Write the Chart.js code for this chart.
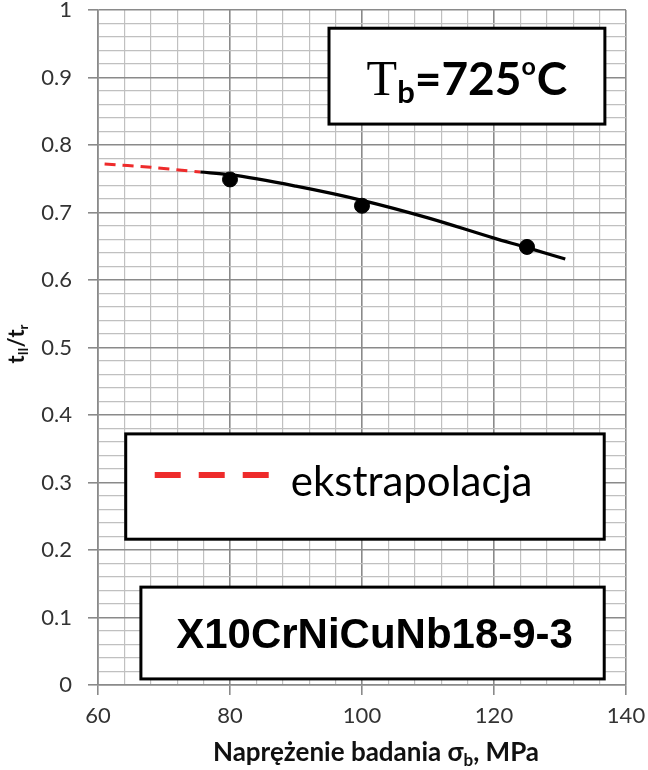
<!DOCTYPE html>
<html>
<head>
<meta charset="utf-8">
<script src="https://cdn.jsdelivr.net/npm/chart.js@4/dist/chart.umd.min.js"></script>
<style>
  html, body { margin: 0; padding: 0; background: #fff; }
  #wrap { width: 648px; height: 770px; }
</style>
</head>
<body>
<div id="wrap"><canvas id="chart"></canvas></div>
<script>
// measured points (stress, MPa -> t_II / t_r)
const stress = [80, 100, 125];
const ratio = [0.749, 0.710, 0.649];

// fitted curve
const fitStress = [75.5, 80, 90, 100, 110, 120, 125, 130.8];
const fitRatio = [0.760, 0.756, 0.739, 0.718, 0.692, 0.662, 0.648, 0.631];

// extrapolated part
const extraStress = [61, 68, 75.5];
const extraRatio = [0.772, 0.767, 0.760];

const xTicks = [60, 80, 100, 120, 140];
const yTicks = [0, 0.1, 0.2, 0.3, 0.4, 0.5, 0.6, 0.7, 0.8, 0.9, 1];

const toXY = (xs, ys) => xs.map((x, i) => ({ x: x, y: ys[i] }));

const isMajorX = (v) => xTicks.includes(v);
const isMajorY = (v) => yTicks.some((t) => Math.abs(t - v) < 1e-6);

// draws text made of several pieces (sub/superscripts)
function drawParts(ctx, parts, x, y, align) {
  let total = 0;
  parts.forEach((p) => {
    ctx.font = p.font;
    p.w = ctx.measureText(p.text).width;
    total += p.w + (p.gap || 0);
  });
  let cx = align === 'center' ? x - total / 2 : x;
  ctx.textAlign = 'left';
  ctx.textBaseline = 'alphabetic';
  parts.forEach((p) => {
    ctx.font = p.font;
    ctx.fillText(p.text, cx, y + (p.dy || 0));
    cx += p.w + (p.gap || 0);
  });
}

function box(ctx, sx, sy, x0, x1, y0, y1) {
  const l = sx.getPixelForValue(x0), r = sx.getPixelForValue(x1);
  const t = sy.getPixelForValue(y0), b = sy.getPixelForValue(y1);
  ctx.fillStyle = '#fff';
  ctx.fillRect(l, t, r - l, b - t);
  ctx.strokeStyle = '#000';
  ctx.lineWidth = 3;
  ctx.strokeRect(l, t, r - l, b - t);
  return { l, r, t, b };
}

const labelsPlugin = {
  id: 'labels',
  afterDatasetsDraw(chart) {
    const ctx = chart.ctx;
    const sx = chart.scales.x, sy = chart.scales.y;
    ctx.save();

    // temperature box
    const b1 = box(ctx, sx, sy, 95, 136.8, 0.973, 0.831);
    ctx.fillStyle = '#000';
    drawParts(ctx, [
      { text: 'T', font: '50px "Liberation Serif"' },
      { text: 'b', font: 'bold 31px Lato', dy: 8 },
      { text: '=725', font: 'bold 46px Lato' },
      { text: 'o', font: 'bold 25px Lato', dy: -20, gap: 1 },
      { text: 'C', font: 'bold 46px Lato' }
    ], (b1.l + b1.r) / 2, b1.t + 67, 'center');

    // legend box
    const b2 = box(ctx, sx, sy, 64.2, 136.7, 0.372, 0.216);
    const ly = b2.t + 41;
    ctx.strokeStyle = '#ee2b2b';
    ctx.lineWidth = 6;
    ctx.setLineDash([26, 18]);
    ctx.beginPath();
    ctx.moveTo(b2.l + 29, ly);
    ctx.lineTo(b2.l + 143, ly);
    ctx.stroke();
    ctx.setLineDash([]);
    ctx.fillStyle = '#000';
    drawParts(ctx, [{ text: 'ekstrapolacja', font: '42px Lato' }], b2.l + 165, b2.t + 62, 'left');

    // steel grade box
    const b3 = box(ctx, sx, sy, 66.5, 136.7, 0.145, 0.009);
    ctx.fillStyle = '#000';
    drawParts(ctx, [{ text: 'X10CrNiCuNb18-9-3', font: 'bold 42px "Liberation Sans"' }],
      (b3.l + b3.r) / 2 + 2, b3.t + 61, 'center');

    // x axis title
    ctx.fillStyle = '#111';
    drawParts(ctx, [
      { text: 'Naprężenie badania σ', font: 'bold 26px Lato' },
      { text: 'b', font: 'bold 17px Lato', dy: 5 },
      { text: ', MPa', font: 'bold 26px Lato' }
    ], 376, 761, 'center');

    // y axis title
    ctx.translate(24, 344);
    ctx.rotate(-Math.PI / 2);
    drawParts(ctx, [
      { text: 't', font: 'bold 22px Lato' },
      { text: 'II', font: 'bold 13px Lato', dy: 4 },
      { text: '/t', font: 'bold 22px Lato' },
      { text: 'r', font: 'bold 13px Lato', dy: 4 }
    ], 0, 0, 'center');
    ctx.restore();
  }
};

new Chart(document.getElementById('chart'), {
  type: 'scatter',
  data: {
    datasets: [
      {
        label: 'ekstrapolacja',
        data: toXY(extraStress, extraRatio),
        showLine: true,
        borderColor: '#ee2b2b',
        borderWidth: 3,
        borderDash: [11, 7],
        pointRadius: 0,
        tension: 0.3
      },
      {
        label: 'fit',
        data: toXY(fitStress, fitRatio),
        showLine: true,
        borderColor: '#000',
        borderWidth: 3.2,
        pointRadius: 0,
        cubicInterpolationMode: 'monotone'
      },
      {
        label: 'badania',
        data: toXY(stress, ratio),
        showLine: false,
        backgroundColor: '#000',
        borderColor: '#000',
        pointRadius: 7.5,
        pointHoverRadius: 7.5
      }
    ]
  },
  options: {
    responsive: true,
    maintainAspectRatio: false,
    animation: false,
    events: [],
    layout: { padding: { top: 10, right: 22, left: 0, bottom: 0 } },
    plugins: { legend: { display: false }, tooltip: { enabled: false } },
    scales: {
      x: {
        type: 'linear',
        min: 60,
        max: 140,
        afterFit: (s) => { s.height = 85; s.paddingLeft = 0; s.paddingRight = 0; },
        ticks: {
          stepSize: 4,
          autoSkip: false,
          maxRotation: 0,
          padding: 8,
          color: '#333',
          font: { family: 'Lato', size: 22 },
          callback: (v) => (isMajorX(v) ? v : '')
        },
        grid: {
          color: (c) => (isMajorX(c.tick.value) ? '#8a8a8a' : '#c0c0c0'),
          lineWidth: (c) => (isMajorX(c.tick.value) ? 1.6 : 1.2),
          tickColor: (c) => (isMajorX(c.tick.value) ? '#8a8a8a' : 'rgba(0,0,0,0)'),
          tickLength: 10
        },
        border: { color: '#8a8a8a', width: 1.6 }
      },
      y: {
        type: 'linear',
        min: 0,
        max: 1,
        afterFit: (s) => { s.width = 98; s.paddingTop = 0; s.paddingBottom = 0; },
        ticks: {
          stepSize: 0.02,
          autoSkip: false,
          padding: 16,
          color: '#333',
          font: { family: 'Lato', size: 22 },
          callback: (v) => {
            const r = Math.round(v * 100);
            return r % 10 === 0 ? String(r / 100) : '';
          }
        },
        grid: {
          color: (c) => (isMajorY(c.tick.value) ? '#8a8a8a' : '#c0c0c0'),
          lineWidth: (c) => (isMajorY(c.tick.value) ? 1.6 : 1.2),
          tickColor: (c) => (isMajorY(c.tick.value) ? '#8a8a8a' : 'rgba(0,0,0,0)'),
          tickLength: 10
        },
        border: { color: '#8a8a8a', width: 1.6 }
      }
    }
  },
  plugins: [labelsPlugin]
});
</script>
</body>
</html>
